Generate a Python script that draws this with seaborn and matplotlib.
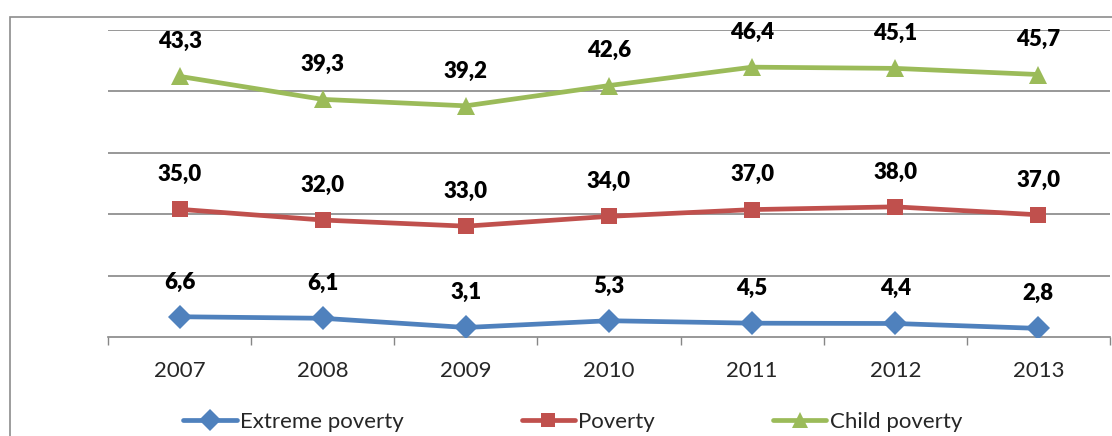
import pandas as pd
import matplotlib.pyplot as plt
import seaborn as sns
from matplotlib.lines import Line2D
from matplotlib.patches import Rectangle

years = [2007, 2008, 2009, 2010, 2011, 2012, 2013]
extreme_poverty = [6.6, 6.1, 3.1, 5.3, 4.5, 4.4, 2.8]
poverty = [35.0, 32.0, 33.0, 34.0, 37.0, 38.0, 37.0]
child_poverty = [43.3, 39.3, 39.2, 42.6, 46.4, 45.1, 45.7]

series_names = ["Extreme poverty", "Poverty", "Child poverty"]
colors = {"Extreme poverty": "#4F81BD", "Poverty": "#C0504D", "Child poverty": "#9BBB59"}
markers = {"Extreme poverty": "D", "Poverty": "s", "Child poverty": "^"}
msizes = {"Extreme poverty": 12, "Poverty": 11, "Child poverty": 13}

# stacked line chart: each series sits on top of the previous ones
wide = pd.DataFrame({"year": years, "Extreme poverty": extreme_poverty,
                     "Poverty": poverty, "Child poverty": child_poverty})
stacked = wide[series_names].cumsum(axis=1)
stacked["year"] = years
df = wide.melt(id_vars="year", var_name="series", value_name="value")
df_st = stacked.melt(id_vars="year", var_name="series", value_name="stacked")
df = df.merge(df_st, on=["year", "series"])

sns.set_style("white")
plt.rcParams["font.family"] = ["Lato", "DejaVu Sans"]

fig = plt.figure(figsize=(11.12, 4.36), dpi=100)
ax = fig.add_axes([108 / 1112, 1 - 337 / 436, 1002 / 1112, 307 / 436])

for name in series_names:
    sub = df[df["series"] == name]
    sns.lineplot(data=sub, x="year", y="stacked", color=colors[name],
                 marker=markers[name], markersize=msizes[name], markeredgewidth=0,
                 linewidth=3.4, ax=ax, legend=False, zorder=3)
    for _, r in sub.iterrows():
        ax.annotate(f"{r['value']:.1f}".replace(".", ","), (r["year"], r["stacked"]),
                    xytext=(0, 25), textcoords="offset points", ha="center", va="center",
                    fontsize=16, fontweight="heavy", color="black")

ax.set_ylim(0, 100)
ax.set_xlim(years[0] - 0.5, years[-1] + 0.5)
ax.set_yticks([20, 40, 60, 80, 100])
ax.set_yticklabels([])
ax.tick_params(axis="y", length=0)
ax.grid(axis="y", color="#868686", linewidth=1.2)
ax.set_axisbelow(True)

ax.set_xticks([y - 0.5 for y in years] + [years[-1] + 0.5])
ax.set_xticklabels([])
ax.set_xticks(years, minor=True)
ax.set_xticklabels([str(y) for y in years], minor=True, fontsize=16)
ax.tick_params(axis="x", which="major", length=6, width=1, color="#868686", direction="out")
ax.tick_params(axis="x", which="minor", length=0, pad=17)
ax.xaxis.set_ticks_position("bottom")
ax.set_xlabel("")
ax.set_ylabel("")
for s in ["top", "right", "left"]:
    ax.spines[s].set_visible(False)
ax.spines["bottom"].set_color("#868686")
ax.spines["bottom"].set_linewidth(1.2)

# outer chart frame (cut off at the right and bottom)
fig.patches.append(Rectangle((10 / 1112, -0.1), 1.2, 1 - 17 / 436 + 0.1,
                             transform=fig.transFigure, fill=False,
                             edgecolor="#8c8c8c", linewidth=1.2))

handles = [Line2D([0], [0], color=colors[n], marker=markers[n], markersize=msizes[n] - 1,
                  markeredgewidth=0, linewidth=3.4) for n in series_names]
fig.legend(handles, series_names, loc="center", bbox_to_anchor=(0.515, 1 - 422 / 436),
           ncol=3, frameon=False, fontsize=16, handlelength=2.4, handletextpad=0.15,
           columnspacing=5.3)

plt.savefig("out.png", dpi=100)
